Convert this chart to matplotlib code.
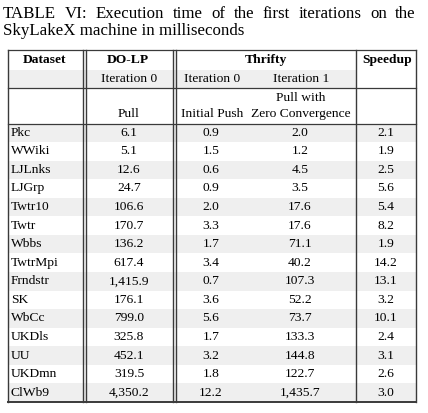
import matplotlib
matplotlib.use('Agg')
from matplotlib import pyplot as plt

datasets = ['Pkc', 'WWiki', 'LJLnks', 'LJGrp', 'Twtr10', 'Twtr', 'Wbbs', 'TwtrMpi',
            'Frndstr', 'SK', 'WbCc', 'UKDls', 'UU', 'UKDmn', 'ClWb9']
dolp_pull = ['6.1', '5.1', '12.6', '24.7', '106.6', '170.7', '136.2', '617.4',
             '1,415.9', '176.1', '799.0', '325.8', '452.1', '319.5', '4,350.2']
thrifty_push = ['0.9', '1.5', '0.6', '0.9', '2.0', '3.3', '1.7', '3.4',
                '0.7', '3.6', '5.6', '1.7', '3.2', '1.8', '12.2']
thrifty_pull = ['2.0', '1.2', '4.5', '3.5', '17.6', '17.6', '71.1', '40.2',
                '107.3', '52.2', '73.7', '133.3', '144.8', '122.7', '1,435.7']
speedup = ['2.1', '1.9', '2.5', '5.6', '5.4', '8.2', '1.9', '14.2',
           '13.1', '3.2', '10.1', '2.4', '3.1', '2.6', '3.0']

caption1 = 'TABLE VI: Execution time of the first iterations on the'
caption2 = 'SkyLakeX machine in milliseconds'

W, H = 428, 413
fig = plt.figure(figsize=(W / 100, H / 100), dpi=100)
ax = fig.add_axes([0, 0, 1, 1])
ax.set_xlim(0, W)
ax.set_ylim(H, 0)
ax.axis('off')

serif = 'Liberation Serif'
fs = 9.7
cfs = 12.2
shade = '#efefef'
lc = '#3a3a3a'

# caption, justified on the first line
words = caption1.split()
r = fig.canvas.get_renderer()
tw = []
for w in words:
    t = ax.text(0, 0, w, fontsize=cfs, family=serif)
    tw.append(t.get_window_extent(renderer=r).width)
    t.remove()
x0, x1 = 3, 416
gap = (x1 - x0 - sum(tw)) / (len(words) - 1)
x = x0
for w, wd in zip(words, tw):
    ax.text(x, 18, w, fontsize=cfs, family=serif, va='baseline', ha='left')
    x += wd + gap
ax.text(x0, 35, caption2, fontsize=cfs, family=serif, va='baseline', ha='left')

left, right = 8, 416
top = 50
r1, r2, r3 = 70, 88, 123.5
rh = (402 - r3) / len(datasets)
bottom = r3 + rh * len(datasets)

ax.fill_between([left, 356], r1, r2, color=shade, lw=0)
for i in range(len(datasets)):
    if i % 2 == 0:
        ax.fill_between([left, right], r3 + i * rh, r3 + (i + 1) * rh, color=shade, lw=0)

for y in [top, r2, r3]:
    ax.plot([left, right], [y, y], color=lc, lw=0.9)
ax.plot([left, right], [bottom, bottom], color=lc, lw=1.4)
for xv in [left, 83, 86, 173, 176, 356, right]:
    ax.plot([xv, xv], [top, bottom], color=lc, lw=1.0)

cx_ds, cx_dolp, cx_t0, cx_t1, cx_sp = 11, 129, 211, 300, 386

def txt(x, y, s, ha='center', bold=False):
    ax.text(x, y, s, fontsize=fs, family=serif, ha=ha, va='center',
            fontweight='bold' if bold else 'normal')

txt(45, 60, 'Dataset', bold=True)
txt(128, 60, 'DO-LP', bold=True)
txt(266, 60, 'Thrifty', bold=True)
txt(387, 60, 'Speedup', bold=True)
txt(cx_dolp, 79, 'Iteration 0')
txt(212, 79, 'Iteration 0')
txt(301, 79, 'Iteration 1')
txt(cx_dolp, 114, 'Pull')
txt(212, 114, 'Initial Push')
txt(301, 98, 'Pull with')
txt(301, 114, 'Zero Convergence')

for i in range(len(datasets)):
    y = r3 + (i + 0.5) * rh
    txt(cx_ds, y, datasets[i], ha='left')
    txt(cx_dolp, y, dolp_pull[i])
    txt(cx_t0, y, thrifty_push[i])
    txt(cx_t1, y, thrifty_pull[i])
    txt(cx_sp, y, speedup[i])

plt.savefig('out.png', dpi=100)
plt.close()
